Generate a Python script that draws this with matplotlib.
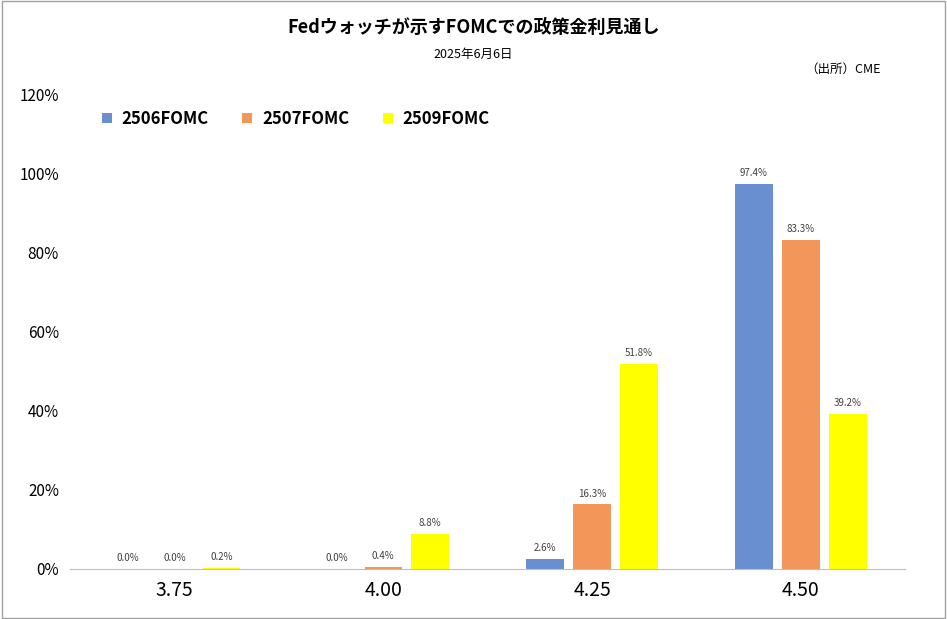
import matplotlib
matplotlib.use("Agg")
import matplotlib.pyplot as plt
import numpy as np
from matplotlib.ticker import FuncFormatter

plt.rcParams["font.family"] = ["Noto Sans CJK JP", "DejaVu Sans"]

categories = ["3.75", "4.00", "4.25", "4.50"]
series_names = ["2506FOMC", "2507FOMC", "2509FOMC"]
values = {
    "2506FOMC": [0.0, 0.0, 2.6, 97.4],
    "2507FOMC": [0.0, 0.4, 16.3, 83.3],
    "2509FOMC": [0.2, 8.8, 51.8, 39.2],
}
colors = ["#6A8FD0", "#F2965A", "#FFFF00"]

fig = plt.figure(figsize=(9.47, 6.19), dpi=100)
ax = fig.add_axes([0.074, 0.081, 0.882, 0.766])

x = np.arange(len(categories))
width = 0.18
offset = 0.225
for i, (name, c) in enumerate(zip(series_names, colors)):
    xs = x + (i - 1) * offset
    ax.bar(xs, values[name], width=width, color=c, label=name)
    for xi, v in zip(xs, values[name]):
        ax.text(xi, v + 1.5, f"{v:.1f}%", ha="center", va="bottom", fontsize=7, color="#404040")

ax.set_xlim(-0.5, 3.5)
ax.set_ylim(0, 120)
ax.set_yticks(range(0, 121, 20))
ax.yaxis.set_major_formatter(FuncFormatter(lambda v, _p: f"{v:.0f}%"))
ax.set_xticks(x)
ax.set_xticklabels(categories, fontsize=14)
ax.tick_params(axis="y", labelsize=11, length=0, pad=8)
ax.tick_params(axis="x", length=0, pad=8)
for s in ("top", "right", "left"):
    ax.spines[s].set_visible(False)
ax.spines["bottom"].set_color("#BFBFBF")

ax.legend(loc="upper left", bbox_to_anchor=(0.02, 1.0), ncol=3, frameon=False,
          prop={"weight": "bold", "size": 12}, handlelength=0.6, handleheight=0.6,
          columnspacing=2.0, handletextpad=0.6)

fig.text(0.5, 0.955, "Fedウォッチが示すFOMCでの政策金利見通し", ha="center", va="center",
         fontsize=13, fontweight="bold")
fig.text(0.5, 0.912, "2025年6月6日", ha="center", va="center", fontsize=9)
fig.text(0.93, 0.888, "（出所）CME", ha="right", va="center", fontsize=9)

fig.patches.append(plt.Rectangle((0.002, 0.002), 0.996, 0.996, transform=fig.transFigure,
                                 fill=False, edgecolor="#A0A0A0", lw=1))
fig.savefig("out.png", dpi=100)
